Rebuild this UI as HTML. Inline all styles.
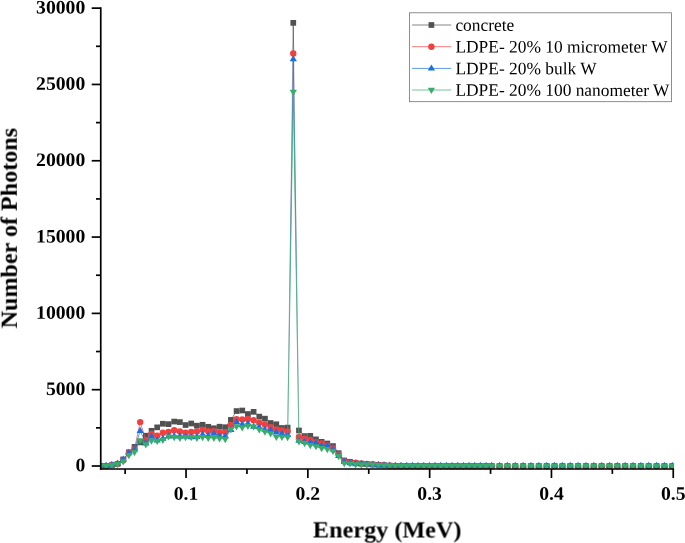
<!DOCTYPE html>
<html lang="en"><head><meta charset="utf-8"><title>Number of Photons vs Energy</title>
<style>html,body{margin:0;padding:0;background:#fff;}svg{display:block;}text{font-family:"Liberation Serif","Times New Roman",serif;text-rendering:geometricPrecision;}.tk{font-weight:bold;font-size:19px;fill:#000;}.ttl{font-weight:bold;font-size:23.3px;fill:#000;}.lg{font-size:17.4px;fill:#000;}</style></head><body>
<svg width="685" height="543" viewBox="0 0 685 543">
<rect width="685" height="543" fill="#fff"/>
<defs><linearGradient id="g0" gradientUnits="userSpaceOnUse" x1="0" y1="440" x2="0" y2="20"><stop offset="0" stop-color="#515151" stop-opacity="0.1"/><stop offset="0.7" stop-color="#515151" stop-opacity="0.3"/><stop offset="0.9" stop-color="#515151" stop-opacity="0.45"/><stop offset="0.92" stop-color="#515151" stop-opacity="1"/><stop offset="1" stop-color="#515151" stop-opacity="1"/></linearGradient><linearGradient id="g1" gradientUnits="userSpaceOnUse" x1="0" y1="440" x2="0" y2="20"><stop offset="0" stop-color="#F14040" stop-opacity="0.1"/><stop offset="0.7" stop-color="#F14040" stop-opacity="0.3"/><stop offset="0.9" stop-color="#F14040" stop-opacity="0.5"/><stop offset="1" stop-color="#F14040" stop-opacity="1"/></linearGradient><linearGradient id="g2" gradientUnits="userSpaceOnUse" x1="0" y1="440" x2="0" y2="20"><stop offset="0" stop-color="#1A6FDF" stop-opacity="0.2"/><stop offset="0.3" stop-color="#1A6FDF" stop-opacity="0.55"/><stop offset="0.55" stop-color="#1A6FDF" stop-opacity="1"/><stop offset="1" stop-color="#1A6FDF" stop-opacity="1"/></linearGradient></defs>
<defs><clipPath id="cp"><rect x="100.4" y="0" width="573.4" height="470"/></clipPath></defs>
<g clip-path="url(#cp)">
<polyline points="100.50,466.00 106.17,465.88 111.84,465.08 117.51,463.86 123.18,459.44 128.85,452.26 134.52,446.89 140.19,442.40 145.86,435.70 151.53,430.82 157.20,427.36 162.87,423.75 168.54,424.14 174.21,421.56 179.88,422.08 185.55,425.04 191.22,423.50 196.89,425.68 202.56,424.78 208.23,426.78 213.90,428.26 219.57,426.70 225.24,427.22 230.91,419.89 236.58,411.06 242.25,410.52 247.92,414.02 253.59,411.84 259.26,416.60 264.93,418.66 270.60,423.02 276.27,424.30 281.94,428.00 287.61,427.62" fill="none" stroke="#515151" stroke-width="0.7"/>
<polyline points="298.95,430.49 304.62,436.12 310.29,435.83 315.96,439.38 321.63,441.84 327.30,443.50 332.97,446.07 338.64,453.15 344.31,460.49 349.98,461.79 355.65,463.07 361.32,463.56 366.99,464.09 372.66,464.47 378.33,464.86 384.00,465.24 389.67,465.57 395.34,465.82" fill="none" stroke="#515151" stroke-width="0.7"/>
<polyline points="287.61,427.62 293.28,22.87 298.95,430.49" fill="none" stroke="url(#g0)" stroke-width="0.7"/>
<g><rect x="97.65" y="463.15" width="5.7" height="5.7" fill="#515151"/><rect x="103.32" y="463.03" width="5.7" height="5.7" fill="#515151"/><rect x="108.99" y="462.23" width="5.7" height="5.7" fill="#515151"/><rect x="114.66" y="461.01" width="5.7" height="5.7" fill="#515151"/><rect x="120.33" y="456.59" width="5.7" height="5.7" fill="#515151"/><rect x="126.00" y="449.41" width="5.7" height="5.7" fill="#515151"/><rect x="131.67" y="444.04" width="5.7" height="5.7" fill="#515151"/><rect x="137.34" y="439.55" width="5.7" height="5.7" fill="#515151"/><rect x="143.01" y="432.85" width="5.7" height="5.7" fill="#515151"/><rect x="148.68" y="427.97" width="5.7" height="5.7" fill="#515151"/><rect x="154.35" y="424.51" width="5.7" height="5.7" fill="#515151"/><rect x="160.02" y="420.90" width="5.7" height="5.7" fill="#515151"/><rect x="165.69" y="421.29" width="5.7" height="5.7" fill="#515151"/><rect x="171.36" y="418.71" width="5.7" height="5.7" fill="#515151"/><rect x="177.03" y="419.23" width="5.7" height="5.7" fill="#515151"/><rect x="182.70" y="422.19" width="5.7" height="5.7" fill="#515151"/><rect x="188.37" y="420.65" width="5.7" height="5.7" fill="#515151"/><rect x="194.04" y="422.83" width="5.7" height="5.7" fill="#515151"/><rect x="199.71" y="421.93" width="5.7" height="5.7" fill="#515151"/><rect x="205.38" y="423.93" width="5.7" height="5.7" fill="#515151"/><rect x="211.05" y="425.41" width="5.7" height="5.7" fill="#515151"/><rect x="216.72" y="423.85" width="5.7" height="5.7" fill="#515151"/><rect x="222.39" y="424.37" width="5.7" height="5.7" fill="#515151"/><rect x="228.06" y="417.04" width="5.7" height="5.7" fill="#515151"/><rect x="233.73" y="408.21" width="5.7" height="5.7" fill="#515151"/><rect x="239.40" y="407.67" width="5.7" height="5.7" fill="#515151"/><rect x="245.07" y="411.17" width="5.7" height="5.7" fill="#515151"/><rect x="250.74" y="408.99" width="5.7" height="5.7" fill="#515151"/><rect x="256.41" y="413.75" width="5.7" height="5.7" fill="#515151"/><rect x="262.08" y="415.81" width="5.7" height="5.7" fill="#515151"/><rect x="267.75" y="420.17" width="5.7" height="5.7" fill="#515151"/><rect x="273.42" y="421.45" width="5.7" height="5.7" fill="#515151"/><rect x="279.09" y="425.15" width="5.7" height="5.7" fill="#515151"/><rect x="284.76" y="424.77" width="5.7" height="5.7" fill="#515151"/><rect x="290.43" y="20.02" width="5.7" height="5.7" fill="#515151"/><rect x="296.10" y="427.64" width="5.7" height="5.7" fill="#515151"/><rect x="301.77" y="433.27" width="5.7" height="5.7" fill="#515151"/><rect x="307.44" y="432.98" width="5.7" height="5.7" fill="#515151"/><rect x="313.11" y="436.53" width="5.7" height="5.7" fill="#515151"/><rect x="318.78" y="438.99" width="5.7" height="5.7" fill="#515151"/><rect x="324.45" y="440.65" width="5.7" height="5.7" fill="#515151"/><rect x="330.12" y="443.22" width="5.7" height="5.7" fill="#515151"/><rect x="335.79" y="450.30" width="5.7" height="5.7" fill="#515151"/><rect x="341.46" y="457.64" width="5.7" height="5.7" fill="#515151"/><rect x="347.13" y="458.94" width="5.7" height="5.7" fill="#515151"/><rect x="352.80" y="460.22" width="5.7" height="5.7" fill="#515151"/><rect x="358.47" y="460.71" width="5.7" height="5.7" fill="#515151"/><rect x="364.14" y="461.24" width="5.7" height="5.7" fill="#515151"/><rect x="369.81" y="461.62" width="5.7" height="5.7" fill="#515151"/><rect x="375.48" y="462.01" width="5.7" height="5.7" fill="#515151"/><rect x="381.15" y="462.39" width="5.7" height="5.7" fill="#515151"/><rect x="386.82" y="462.72" width="5.7" height="5.7" fill="#515151"/><rect x="392.49" y="462.97" width="5.7" height="5.7" fill="#515151"/><rect x="398.16" y="463.09" width="5.7" height="5.7" fill="#515151"/><rect x="403.83" y="463.18" width="5.7" height="5.7" fill="#515151"/><rect x="409.50" y="463.18" width="5.7" height="5.7" fill="#515151"/><rect x="415.17" y="463.18" width="5.7" height="5.7" fill="#515151"/><rect x="420.84" y="463.18" width="5.7" height="5.7" fill="#515151"/><rect x="426.51" y="463.18" width="5.7" height="5.7" fill="#515151"/><rect x="432.18" y="463.18" width="5.7" height="5.7" fill="#515151"/><rect x="437.85" y="463.18" width="5.7" height="5.7" fill="#515151"/><rect x="443.52" y="463.18" width="5.7" height="5.7" fill="#515151"/><rect x="449.19" y="463.18" width="5.7" height="5.7" fill="#515151"/><rect x="454.86" y="463.18" width="5.7" height="5.7" fill="#515151"/><rect x="460.53" y="463.18" width="5.7" height="5.7" fill="#515151"/><rect x="466.20" y="463.18" width="5.7" height="5.7" fill="#515151"/><rect x="471.87" y="463.18" width="5.7" height="5.7" fill="#515151"/><rect x="477.54" y="463.18" width="5.7" height="5.7" fill="#515151"/><rect x="483.21" y="463.18" width="5.7" height="5.7" fill="#515151"/><rect x="488.88" y="463.18" width="5.7" height="5.7" fill="#515151"/><rect x="496.73" y="463.18" width="5.7" height="5.7" fill="#515151"/><rect x="504.58" y="463.18" width="5.7" height="5.7" fill="#515151"/><rect x="512.43" y="463.18" width="5.7" height="5.7" fill="#515151"/><rect x="520.28" y="463.18" width="5.7" height="5.7" fill="#515151"/><rect x="528.13" y="463.18" width="5.7" height="5.7" fill="#515151"/><rect x="535.98" y="463.18" width="5.7" height="5.7" fill="#515151"/><rect x="543.83" y="463.18" width="5.7" height="5.7" fill="#515151"/><rect x="551.68" y="463.18" width="5.7" height="5.7" fill="#515151"/><rect x="559.53" y="463.18" width="5.7" height="5.7" fill="#515151"/><rect x="567.38" y="463.18" width="5.7" height="5.7" fill="#515151"/><rect x="575.23" y="463.18" width="5.7" height="5.7" fill="#515151"/><rect x="583.08" y="463.18" width="5.7" height="5.7" fill="#515151"/><rect x="590.93" y="463.18" width="5.7" height="5.7" fill="#515151"/><rect x="598.78" y="463.18" width="5.7" height="5.7" fill="#515151"/><rect x="606.63" y="463.18" width="5.7" height="5.7" fill="#515151"/><rect x="614.48" y="463.18" width="5.7" height="5.7" fill="#515151"/><rect x="622.33" y="463.18" width="5.7" height="5.7" fill="#515151"/><rect x="630.18" y="463.18" width="5.7" height="5.7" fill="#515151"/><rect x="638.03" y="463.18" width="5.7" height="5.7" fill="#515151"/><rect x="645.88" y="463.18" width="5.7" height="5.7" fill="#515151"/><rect x="653.73" y="463.18" width="5.7" height="5.7" fill="#515151"/><rect x="661.58" y="463.18" width="5.7" height="5.7" fill="#515151"/><rect x="669.43" y="463.18" width="5.7" height="5.7" fill="#515151"/></g>
<polyline points="100.50,466.00 106.17,465.88 111.84,465.08 117.51,463.86 123.18,460.20 128.85,453.03 134.52,448.91 140.19,422.08 145.86,440.05 151.53,433.95 157.20,435.70 162.87,432.76 168.54,431.86 174.21,430.18 179.88,431.46 185.55,432.76 191.22,432.03 196.89,431.46 202.56,429.84 208.23,431.13 213.90,431.13 219.57,432.42 225.24,432.12 230.91,425.04 236.58,419.15 242.25,419.45 247.92,418.92 253.59,420.20 259.26,422.76 264.93,424.44 270.60,427.27 276.27,429.57 281.94,430.47 287.61,431.49" fill="none" stroke="#F14040" stroke-width="0.7"/>
<polyline points="298.95,436.90 304.62,438.42 310.29,440.07 315.96,442.21 321.63,443.41 327.30,445.43 332.97,448.36 338.64,454.45 344.31,461.13 349.98,462.79 355.65,462.70 361.32,463.71 366.99,464.17 372.66,464.55 378.33,464.90 384.00,465.27 389.67,465.60 395.34,465.85" fill="none" stroke="#F14040" stroke-width="0.7"/>
<polyline points="287.61,431.49 293.28,53.57 298.95,436.90" fill="none" stroke="url(#g1)" stroke-width="0.7"/>
<g><circle cx="100.50" cy="466.00" r="3.2" fill="#F14040"/><circle cx="106.17" cy="465.88" r="3.2" fill="#F14040"/><circle cx="111.84" cy="465.08" r="3.2" fill="#F14040"/><circle cx="117.51" cy="463.86" r="3.2" fill="#F14040"/><circle cx="123.18" cy="460.20" r="3.2" fill="#F14040"/><circle cx="128.85" cy="453.03" r="3.2" fill="#F14040"/><circle cx="134.52" cy="448.91" r="3.2" fill="#F14040"/><circle cx="140.19" cy="422.08" r="3.2" fill="#F14040"/><circle cx="145.86" cy="440.05" r="3.2" fill="#F14040"/><circle cx="151.53" cy="433.95" r="3.2" fill="#F14040"/><circle cx="157.20" cy="435.70" r="3.2" fill="#F14040"/><circle cx="162.87" cy="432.76" r="3.2" fill="#F14040"/><circle cx="168.54" cy="431.86" r="3.2" fill="#F14040"/><circle cx="174.21" cy="430.18" r="3.2" fill="#F14040"/><circle cx="179.88" cy="431.46" r="3.2" fill="#F14040"/><circle cx="185.55" cy="432.76" r="3.2" fill="#F14040"/><circle cx="191.22" cy="432.03" r="3.2" fill="#F14040"/><circle cx="196.89" cy="431.46" r="3.2" fill="#F14040"/><circle cx="202.56" cy="429.84" r="3.2" fill="#F14040"/><circle cx="208.23" cy="431.13" r="3.2" fill="#F14040"/><circle cx="213.90" cy="431.13" r="3.2" fill="#F14040"/><circle cx="219.57" cy="432.42" r="3.2" fill="#F14040"/><circle cx="225.24" cy="432.12" r="3.2" fill="#F14040"/><circle cx="230.91" cy="425.04" r="3.2" fill="#F14040"/><circle cx="236.58" cy="419.15" r="3.2" fill="#F14040"/><circle cx="242.25" cy="419.45" r="3.2" fill="#F14040"/><circle cx="247.92" cy="418.92" r="3.2" fill="#F14040"/><circle cx="253.59" cy="420.20" r="3.2" fill="#F14040"/><circle cx="259.26" cy="422.76" r="3.2" fill="#F14040"/><circle cx="264.93" cy="424.44" r="3.2" fill="#F14040"/><circle cx="270.60" cy="427.27" r="3.2" fill="#F14040"/><circle cx="276.27" cy="429.57" r="3.2" fill="#F14040"/><circle cx="281.94" cy="430.47" r="3.2" fill="#F14040"/><circle cx="287.61" cy="431.49" r="3.2" fill="#F14040"/><circle cx="293.28" cy="53.57" r="3.2" fill="#F14040"/><circle cx="298.95" cy="436.90" r="3.2" fill="#F14040"/><circle cx="304.62" cy="438.42" r="3.2" fill="#F14040"/><circle cx="310.29" cy="440.07" r="3.2" fill="#F14040"/><circle cx="315.96" cy="442.21" r="3.2" fill="#F14040"/><circle cx="321.63" cy="443.41" r="3.2" fill="#F14040"/><circle cx="327.30" cy="445.43" r="3.2" fill="#F14040"/><circle cx="332.97" cy="448.36" r="3.2" fill="#F14040"/><circle cx="338.64" cy="454.45" r="3.2" fill="#F14040"/><circle cx="344.31" cy="461.13" r="3.2" fill="#F14040"/><circle cx="349.98" cy="462.79" r="3.2" fill="#F14040"/><circle cx="355.65" cy="462.70" r="3.2" fill="#F14040"/><circle cx="361.32" cy="463.71" r="3.2" fill="#F14040"/><circle cx="366.99" cy="464.17" r="3.2" fill="#F14040"/><circle cx="372.66" cy="464.55" r="3.2" fill="#F14040"/><circle cx="378.33" cy="464.90" r="3.2" fill="#F14040"/><circle cx="384.00" cy="465.27" r="3.2" fill="#F14040"/><circle cx="389.67" cy="465.60" r="3.2" fill="#F14040"/><circle cx="395.34" cy="465.85" r="3.2" fill="#F14040"/><circle cx="401.01" cy="465.97" r="3.2" fill="#F14040"/><circle cx="406.68" cy="466.09" r="3.2" fill="#F14040"/><circle cx="412.35" cy="466.09" r="3.2" fill="#F14040"/><circle cx="418.02" cy="466.09" r="3.2" fill="#F14040"/><circle cx="423.69" cy="466.09" r="3.2" fill="#F14040"/><circle cx="429.36" cy="466.09" r="3.2" fill="#F14040"/><circle cx="435.03" cy="466.09" r="3.2" fill="#F14040"/><circle cx="440.70" cy="466.09" r="3.2" fill="#F14040"/><circle cx="446.37" cy="466.09" r="3.2" fill="#F14040"/><circle cx="452.04" cy="466.09" r="3.2" fill="#F14040"/><circle cx="457.71" cy="466.09" r="3.2" fill="#F14040"/><circle cx="463.38" cy="466.09" r="3.2" fill="#F14040"/><circle cx="469.05" cy="466.09" r="3.2" fill="#F14040"/><circle cx="474.72" cy="466.09" r="3.2" fill="#F14040"/><circle cx="480.39" cy="466.09" r="3.2" fill="#F14040"/><circle cx="486.06" cy="466.09" r="3.2" fill="#F14040"/><circle cx="491.73" cy="466.09" r="3.2" fill="#F14040"/><circle cx="499.58" cy="466.09" r="3.2" fill="#F14040"/><circle cx="507.43" cy="466.09" r="3.2" fill="#F14040"/><circle cx="515.28" cy="466.09" r="3.2" fill="#F14040"/><circle cx="523.13" cy="466.09" r="3.2" fill="#F14040"/><circle cx="530.98" cy="466.09" r="3.2" fill="#F14040"/><circle cx="538.83" cy="466.09" r="3.2" fill="#F14040"/><circle cx="546.68" cy="466.09" r="3.2" fill="#F14040"/><circle cx="554.53" cy="466.09" r="3.2" fill="#F14040"/><circle cx="562.38" cy="466.09" r="3.2" fill="#F14040"/><circle cx="570.23" cy="466.09" r="3.2" fill="#F14040"/><circle cx="578.08" cy="466.09" r="3.2" fill="#F14040"/><circle cx="585.93" cy="466.09" r="3.2" fill="#F14040"/><circle cx="593.78" cy="466.09" r="3.2" fill="#F14040"/><circle cx="601.63" cy="466.09" r="3.2" fill="#F14040"/><circle cx="609.48" cy="466.09" r="3.2" fill="#F14040"/><circle cx="617.33" cy="466.09" r="3.2" fill="#F14040"/><circle cx="625.18" cy="466.09" r="3.2" fill="#F14040"/><circle cx="633.03" cy="466.09" r="3.2" fill="#F14040"/><circle cx="640.88" cy="466.09" r="3.2" fill="#F14040"/><circle cx="648.73" cy="466.09" r="3.2" fill="#F14040"/><circle cx="656.58" cy="466.09" r="3.2" fill="#F14040"/><circle cx="664.43" cy="466.09" r="3.2" fill="#F14040"/><circle cx="672.28" cy="466.09" r="3.2" fill="#F14040"/></g>
<polyline points="100.50,465.88 106.17,465.73 111.84,464.66 117.51,463.48 123.18,459.51 128.85,452.69 134.52,449.21 140.19,430.82 145.86,443.41 151.53,436.54 157.20,440.36 162.87,438.53 168.54,436.24 174.21,436.09 179.88,436.24 185.55,436.39 191.22,436.93 196.89,436.85 202.56,434.59 208.23,435.78 213.90,433.57 219.57,436.16 225.24,436.13 230.91,429.68 236.58,422.05 242.25,424.49 247.92,423.57 253.59,426.62 259.26,427.16 264.93,429.48 270.60,429.94 276.27,432.23 281.94,433.60 287.61,434.90" fill="none" stroke="#1A6FDF" stroke-width="0.7"/>
<polyline points="298.95,440.59 304.62,441.76 310.29,442.40 315.96,442.85 321.63,445.79 327.30,445.43 332.97,449.38 338.64,455.71 344.31,461.59 349.98,462.79 355.65,464.02 361.32,463.74 366.99,464.32 372.66,464.53 378.33,464.72 384.00,465.08 389.67,465.45 395.34,465.66" fill="none" stroke="#1A6FDF" stroke-width="0.7"/>
<polyline points="287.61,434.90 293.28,59.15 298.95,440.59" fill="none" stroke="url(#g2)" stroke-width="0.7"/>
<g><path d="M100.50 461.88L104.10 468.08L96.90 468.08Z" fill="#1A6FDF"/><path d="M106.17 461.73L109.77 467.93L102.57 467.93Z" fill="#1A6FDF"/><path d="M111.84 460.66L115.44 466.86L108.24 466.86Z" fill="#1A6FDF"/><path d="M117.51 459.48L121.11 465.68L113.91 465.68Z" fill="#1A6FDF"/><path d="M123.18 455.51L126.78 461.71L119.58 461.71Z" fill="#1A6FDF"/><path d="M128.85 448.69L132.45 454.89L125.25 454.89Z" fill="#1A6FDF"/><path d="M134.52 445.21L138.12 451.41L130.92 451.41Z" fill="#1A6FDF"/><path d="M140.19 426.82L143.79 433.02L136.59 433.02Z" fill="#1A6FDF"/><path d="M145.86 439.41L149.46 445.61L142.26 445.61Z" fill="#1A6FDF"/><path d="M151.53 432.54L155.13 438.74L147.93 438.74Z" fill="#1A6FDF"/><path d="M157.20 436.36L160.80 442.56L153.60 442.56Z" fill="#1A6FDF"/><path d="M162.87 434.53L166.47 440.73L159.27 440.73Z" fill="#1A6FDF"/><path d="M168.54 432.24L172.14 438.44L164.94 438.44Z" fill="#1A6FDF"/><path d="M174.21 432.09L177.81 438.29L170.61 438.29Z" fill="#1A6FDF"/><path d="M179.88 432.24L183.48 438.44L176.28 438.44Z" fill="#1A6FDF"/><path d="M185.55 432.39L189.15 438.59L181.95 438.59Z" fill="#1A6FDF"/><path d="M191.22 432.93L194.82 439.13L187.62 439.13Z" fill="#1A6FDF"/><path d="M196.89 432.85L200.49 439.05L193.29 439.05Z" fill="#1A6FDF"/><path d="M202.56 430.59L206.16 436.79L198.96 436.79Z" fill="#1A6FDF"/><path d="M208.23 431.78L211.83 437.98L204.63 437.98Z" fill="#1A6FDF"/><path d="M213.90 429.57L217.50 435.77L210.30 435.77Z" fill="#1A6FDF"/><path d="M219.57 432.16L223.17 438.36L215.97 438.36Z" fill="#1A6FDF"/><path d="M225.24 432.13L228.84 438.33L221.64 438.33Z" fill="#1A6FDF"/><path d="M230.91 425.68L234.51 431.88L227.31 431.88Z" fill="#1A6FDF"/><path d="M236.58 418.05L240.18 424.25L232.98 424.25Z" fill="#1A6FDF"/><path d="M242.25 420.49L245.85 426.69L238.65 426.69Z" fill="#1A6FDF"/><path d="M247.92 419.57L251.52 425.77L244.32 425.77Z" fill="#1A6FDF"/><path d="M253.59 422.62L257.19 428.82L249.99 428.82Z" fill="#1A6FDF"/><path d="M259.26 423.16L262.86 429.36L255.66 429.36Z" fill="#1A6FDF"/><path d="M264.93 425.48L268.53 431.68L261.33 431.68Z" fill="#1A6FDF"/><path d="M270.60 425.94L274.20 432.14L267.00 432.14Z" fill="#1A6FDF"/><path d="M276.27 428.23L279.87 434.43L272.67 434.43Z" fill="#1A6FDF"/><path d="M281.94 429.60L285.54 435.80L278.34 435.80Z" fill="#1A6FDF"/><path d="M287.61 430.90L291.21 437.10L284.01 437.10Z" fill="#1A6FDF"/><path d="M293.28 55.15L296.88 61.35L289.68 61.35Z" fill="#1A6FDF"/><path d="M298.95 436.59L302.55 442.79L295.35 442.79Z" fill="#1A6FDF"/><path d="M304.62 437.76L308.22 443.96L301.02 443.96Z" fill="#1A6FDF"/><path d="M310.29 438.40L313.89 444.60L306.69 444.60Z" fill="#1A6FDF"/><path d="M315.96 438.85L319.56 445.05L312.36 445.05Z" fill="#1A6FDF"/><path d="M321.63 441.79L325.23 447.99L318.03 447.99Z" fill="#1A6FDF"/><path d="M327.30 441.43L330.90 447.63L323.70 447.63Z" fill="#1A6FDF"/><path d="M332.97 445.38L336.57 451.58L329.37 451.58Z" fill="#1A6FDF"/><path d="M338.64 451.71L342.24 457.91L335.04 457.91Z" fill="#1A6FDF"/><path d="M344.31 457.59L347.91 463.79L340.71 463.79Z" fill="#1A6FDF"/><path d="M349.98 458.79L353.58 464.99L346.38 464.99Z" fill="#1A6FDF"/><path d="M355.65 460.02L359.25 466.22L352.05 466.22Z" fill="#1A6FDF"/><path d="M361.32 459.74L364.92 465.94L357.72 465.94Z" fill="#1A6FDF"/><path d="M366.99 460.32L370.59 466.52L363.39 466.52Z" fill="#1A6FDF"/><path d="M372.66 460.53L376.26 466.73L369.06 466.73Z" fill="#1A6FDF"/><path d="M378.33 460.72L381.93 466.92L374.73 466.92Z" fill="#1A6FDF"/><path d="M384.00 461.08L387.60 467.28L380.40 467.28Z" fill="#1A6FDF"/><path d="M389.67 461.45L393.27 467.65L386.07 467.65Z" fill="#1A6FDF"/><path d="M395.34 461.66L398.94 467.86L391.74 467.86Z" fill="#1A6FDF"/><path d="M401.01 461.82L404.61 468.02L397.41 468.02Z" fill="#1A6FDF"/><path d="M406.68 461.79L410.28 467.99L403.08 467.99Z" fill="#1A6FDF"/><path d="M412.35 461.79L415.95 467.99L408.75 467.99Z" fill="#1A6FDF"/><path d="M418.02 461.79L421.62 467.99L414.42 467.99Z" fill="#1A6FDF"/><path d="M423.69 461.79L427.29 467.99L420.09 467.99Z" fill="#1A6FDF"/><path d="M429.36 461.79L432.96 467.99L425.76 467.99Z" fill="#1A6FDF"/><path d="M435.03 461.79L438.63 467.99L431.43 467.99Z" fill="#1A6FDF"/><path d="M440.70 461.79L444.30 467.99L437.10 467.99Z" fill="#1A6FDF"/><path d="M446.37 461.79L449.97 467.99L442.77 467.99Z" fill="#1A6FDF"/><path d="M452.04 461.79L455.64 467.99L448.44 467.99Z" fill="#1A6FDF"/><path d="M457.71 461.79L461.31 467.99L454.11 467.99Z" fill="#1A6FDF"/><path d="M463.38 461.79L466.98 467.99L459.78 467.99Z" fill="#1A6FDF"/><path d="M469.05 461.79L472.65 467.99L465.45 467.99Z" fill="#1A6FDF"/><path d="M474.72 461.79L478.32 467.99L471.12 467.99Z" fill="#1A6FDF"/><path d="M480.39 461.79L483.99 467.99L476.79 467.99Z" fill="#1A6FDF"/><path d="M486.06 461.79L489.66 467.99L482.46 467.99Z" fill="#1A6FDF"/><path d="M491.73 461.79L495.33 467.99L488.13 467.99Z" fill="#1A6FDF"/><path d="M499.58 461.79L503.18 467.99L495.98 467.99Z" fill="#1A6FDF"/><path d="M507.43 461.79L511.03 467.99L503.83 467.99Z" fill="#1A6FDF"/><path d="M515.28 461.79L518.88 467.99L511.68 467.99Z" fill="#1A6FDF"/><path d="M523.13 461.79L526.73 467.99L519.53 467.99Z" fill="#1A6FDF"/><path d="M530.98 461.79L534.58 467.99L527.38 467.99Z" fill="#1A6FDF"/><path d="M538.83 461.79L542.43 467.99L535.23 467.99Z" fill="#1A6FDF"/><path d="M546.68 461.79L550.28 467.99L543.08 467.99Z" fill="#1A6FDF"/><path d="M554.53 461.79L558.13 467.99L550.93 467.99Z" fill="#1A6FDF"/><path d="M562.38 461.79L565.98 467.99L558.78 467.99Z" fill="#1A6FDF"/><path d="M570.23 461.79L573.83 467.99L566.63 467.99Z" fill="#1A6FDF"/><path d="M578.08 461.79L581.68 467.99L574.48 467.99Z" fill="#1A6FDF"/><path d="M585.93 461.79L589.53 467.99L582.33 467.99Z" fill="#1A6FDF"/><path d="M593.78 461.79L597.38 467.99L590.18 467.99Z" fill="#1A6FDF"/><path d="M601.63 461.79L605.23 467.99L598.03 467.99Z" fill="#1A6FDF"/><path d="M609.48 461.79L613.08 467.99L605.88 467.99Z" fill="#1A6FDF"/><path d="M617.33 461.79L620.93 467.99L613.73 467.99Z" fill="#1A6FDF"/><path d="M625.18 461.79L628.78 467.99L621.58 467.99Z" fill="#1A6FDF"/><path d="M633.03 461.79L636.63 467.99L629.43 467.99Z" fill="#1A6FDF"/><path d="M640.88 461.79L644.48 467.99L637.28 467.99Z" fill="#1A6FDF"/><path d="M648.73 461.79L652.33 467.99L645.13 467.99Z" fill="#1A6FDF"/><path d="M656.58 461.79L660.18 467.99L652.98 467.99Z" fill="#1A6FDF"/><path d="M664.43 461.79L668.03 467.99L660.83 467.99Z" fill="#1A6FDF"/><path d="M672.28 461.79L675.88 467.99L668.68 467.99Z" fill="#1A6FDF"/></g>
<polyline points="100.50,466.08 106.17,466.00 111.84,465.24 117.51,464.24 123.18,461.42 128.85,455.26 134.52,452.26 140.19,440.47 145.86,444.48 151.53,440.71 157.20,441.12 162.87,439.90 168.54,436.61 174.21,437.25 179.88,437.90 185.55,437.25 191.22,437.25 196.89,437.90 202.56,437.25 208.23,437.90 213.90,437.90 219.57,438.54 225.24,439.18 230.91,429.54 236.58,426.47 242.25,427.43 247.92,425.98 253.59,426.62 259.26,429.52 264.93,431.77 270.60,433.45 276.27,436.91 281.94,436.90 287.61,437.28 293.28,91.91 298.95,441.50 304.62,443.18 310.29,445.15 315.96,446.34 321.63,448.28 327.30,449.20 332.97,451.12 338.64,456.26 344.31,463.34 349.98,463.62 355.65,464.38 361.32,464.63 366.99,464.60 372.66,464.78 378.33,465.11 384.00,465.48 389.67,465.82 395.34,465.97 401.01,466.00 406.68,466.03 412.35,466.03 418.02,466.03 423.69,466.03 429.36,466.03 435.03,466.03 440.70,466.03 446.37,466.03 452.04,466.03 457.71,466.03 463.38,466.03 469.05,466.03 474.72,466.03 480.39,466.03 486.06,466.03 491.73,466.03 499.58,466.03 507.43,466.03 515.28,466.03 523.13,466.03 530.98,466.03 538.83,466.03 546.68,466.03 554.53,466.03 562.38,466.03 570.23,466.03 578.08,466.03 585.93,466.03 593.78,466.03 601.63,466.03 609.48,466.03 617.33,466.03 625.18,466.03 633.03,466.03 640.88,466.03 648.73,466.03 656.58,466.03 664.43,466.03 672.28,466.03" fill="none" stroke="#37AD6B" stroke-width="0.7"/>
<g><path d="M100.50 470.08L104.10 463.88L96.90 463.88Z" fill="#37AD6B"/><path d="M106.17 470.00L109.77 463.80L102.57 463.80Z" fill="#37AD6B"/><path d="M111.84 469.24L115.44 463.04L108.24 463.04Z" fill="#37AD6B"/><path d="M117.51 468.24L121.11 462.04L113.91 462.04Z" fill="#37AD6B"/><path d="M123.18 465.42L126.78 459.22L119.58 459.22Z" fill="#37AD6B"/><path d="M128.85 459.26L132.45 453.06L125.25 453.06Z" fill="#37AD6B"/><path d="M134.52 456.26L138.12 450.06L130.92 450.06Z" fill="#37AD6B"/><path d="M140.19 444.47L143.79 438.27L136.59 438.27Z" fill="#37AD6B"/><path d="M145.86 448.48L149.46 442.28L142.26 442.28Z" fill="#37AD6B"/><path d="M151.53 444.71L155.13 438.51L147.93 438.51Z" fill="#37AD6B"/><path d="M157.20 445.12L160.80 438.92L153.60 438.92Z" fill="#37AD6B"/><path d="M162.87 443.90L166.47 437.70L159.27 437.70Z" fill="#37AD6B"/><path d="M168.54 440.61L172.14 434.41L164.94 434.41Z" fill="#37AD6B"/><path d="M174.21 441.25L177.81 435.05L170.61 435.05Z" fill="#37AD6B"/><path d="M179.88 441.90L183.48 435.70L176.28 435.70Z" fill="#37AD6B"/><path d="M185.55 441.25L189.15 435.05L181.95 435.05Z" fill="#37AD6B"/><path d="M191.22 441.25L194.82 435.05L187.62 435.05Z" fill="#37AD6B"/><path d="M196.89 441.90L200.49 435.70L193.29 435.70Z" fill="#37AD6B"/><path d="M202.56 441.25L206.16 435.05L198.96 435.05Z" fill="#37AD6B"/><path d="M208.23 441.90L211.83 435.70L204.63 435.70Z" fill="#37AD6B"/><path d="M213.90 441.90L217.50 435.70L210.30 435.70Z" fill="#37AD6B"/><path d="M219.57 442.54L223.17 436.34L215.97 436.34Z" fill="#37AD6B"/><path d="M225.24 443.18L228.84 436.98L221.64 436.98Z" fill="#37AD6B"/><path d="M230.91 433.54L234.51 427.34L227.31 427.34Z" fill="#37AD6B"/><path d="M236.58 430.47L240.18 424.27L232.98 424.27Z" fill="#37AD6B"/><path d="M242.25 431.43L245.85 425.23L238.65 425.23Z" fill="#37AD6B"/><path d="M247.92 429.98L251.52 423.78L244.32 423.78Z" fill="#37AD6B"/><path d="M253.59 430.62L257.19 424.42L249.99 424.42Z" fill="#37AD6B"/><path d="M259.26 433.52L262.86 427.32L255.66 427.32Z" fill="#37AD6B"/><path d="M264.93 435.77L268.53 429.57L261.33 429.57Z" fill="#37AD6B"/><path d="M270.60 437.45L274.20 431.25L267.00 431.25Z" fill="#37AD6B"/><path d="M276.27 440.91L279.87 434.71L272.67 434.71Z" fill="#37AD6B"/><path d="M281.94 440.90L285.54 434.70L278.34 434.70Z" fill="#37AD6B"/><path d="M287.61 441.28L291.21 435.08L284.01 435.08Z" fill="#37AD6B"/><path d="M293.28 95.91L296.88 89.71L289.68 89.71Z" fill="#37AD6B"/><path d="M298.95 445.50L302.55 439.30L295.35 439.30Z" fill="#37AD6B"/><path d="M304.62 447.18L308.22 440.98L301.02 440.98Z" fill="#37AD6B"/><path d="M310.29 449.15L313.89 442.95L306.69 442.95Z" fill="#37AD6B"/><path d="M315.96 450.34L319.56 444.14L312.36 444.14Z" fill="#37AD6B"/><path d="M321.63 452.28L325.23 446.08L318.03 446.08Z" fill="#37AD6B"/><path d="M327.30 453.20L330.90 447.00L323.70 447.00Z" fill="#37AD6B"/><path d="M332.97 455.12L336.57 448.92L329.37 448.92Z" fill="#37AD6B"/><path d="M338.64 460.26L342.24 454.06L335.04 454.06Z" fill="#37AD6B"/><path d="M344.31 467.34L347.91 461.14L340.71 461.14Z" fill="#37AD6B"/><path d="M349.98 467.62L353.58 461.42L346.38 461.42Z" fill="#37AD6B"/><path d="M355.65 468.38L359.25 462.18L352.05 462.18Z" fill="#37AD6B"/><path d="M361.32 468.63L364.92 462.43L357.72 462.43Z" fill="#37AD6B"/><path d="M366.99 468.60L370.59 462.40L363.39 462.40Z" fill="#37AD6B"/><path d="M372.66 468.78L376.26 462.58L369.06 462.58Z" fill="#37AD6B"/><path d="M378.33 469.11L381.93 462.91L374.73 462.91Z" fill="#37AD6B"/><path d="M384.00 469.48L387.60 463.28L380.40 463.28Z" fill="#37AD6B"/><path d="M389.67 469.82L393.27 463.62L386.07 463.62Z" fill="#37AD6B"/><path d="M395.34 469.97L398.94 463.77L391.74 463.77Z" fill="#37AD6B"/><path d="M401.01 470.00L404.61 463.80L397.41 463.80Z" fill="#37AD6B"/><path d="M406.68 470.03L410.28 463.83L403.08 463.83Z" fill="#37AD6B"/><path d="M412.35 470.03L415.95 463.83L408.75 463.83Z" fill="#37AD6B"/><path d="M418.02 470.03L421.62 463.83L414.42 463.83Z" fill="#37AD6B"/><path d="M423.69 470.03L427.29 463.83L420.09 463.83Z" fill="#37AD6B"/><path d="M429.36 470.03L432.96 463.83L425.76 463.83Z" fill="#37AD6B"/><path d="M435.03 470.03L438.63 463.83L431.43 463.83Z" fill="#37AD6B"/><path d="M440.70 470.03L444.30 463.83L437.10 463.83Z" fill="#37AD6B"/><path d="M446.37 470.03L449.97 463.83L442.77 463.83Z" fill="#37AD6B"/><path d="M452.04 470.03L455.64 463.83L448.44 463.83Z" fill="#37AD6B"/><path d="M457.71 470.03L461.31 463.83L454.11 463.83Z" fill="#37AD6B"/><path d="M463.38 470.03L466.98 463.83L459.78 463.83Z" fill="#37AD6B"/><path d="M469.05 470.03L472.65 463.83L465.45 463.83Z" fill="#37AD6B"/><path d="M474.72 470.03L478.32 463.83L471.12 463.83Z" fill="#37AD6B"/><path d="M480.39 470.03L483.99 463.83L476.79 463.83Z" fill="#37AD6B"/><path d="M486.06 470.03L489.66 463.83L482.46 463.83Z" fill="#37AD6B"/><path d="M491.73 470.03L495.33 463.83L488.13 463.83Z" fill="#37AD6B"/><path d="M499.58 470.03L503.18 463.83L495.98 463.83Z" fill="#37AD6B"/><path d="M507.43 470.03L511.03 463.83L503.83 463.83Z" fill="#37AD6B"/><path d="M515.28 470.03L518.88 463.83L511.68 463.83Z" fill="#37AD6B"/><path d="M523.13 470.03L526.73 463.83L519.53 463.83Z" fill="#37AD6B"/><path d="M530.98 470.03L534.58 463.83L527.38 463.83Z" fill="#37AD6B"/><path d="M538.83 470.03L542.43 463.83L535.23 463.83Z" fill="#37AD6B"/><path d="M546.68 470.03L550.28 463.83L543.08 463.83Z" fill="#37AD6B"/><path d="M554.53 470.03L558.13 463.83L550.93 463.83Z" fill="#37AD6B"/><path d="M562.38 470.03L565.98 463.83L558.78 463.83Z" fill="#37AD6B"/><path d="M570.23 470.03L573.83 463.83L566.63 463.83Z" fill="#37AD6B"/><path d="M578.08 470.03L581.68 463.83L574.48 463.83Z" fill="#37AD6B"/><path d="M585.93 470.03L589.53 463.83L582.33 463.83Z" fill="#37AD6B"/><path d="M593.78 470.03L597.38 463.83L590.18 463.83Z" fill="#37AD6B"/><path d="M601.63 470.03L605.23 463.83L598.03 463.83Z" fill="#37AD6B"/><path d="M609.48 470.03L613.08 463.83L605.88 463.83Z" fill="#37AD6B"/><path d="M617.33 470.03L620.93 463.83L613.73 463.83Z" fill="#37AD6B"/><path d="M625.18 470.03L628.78 463.83L621.58 463.83Z" fill="#37AD6B"/><path d="M633.03 470.03L636.63 463.83L629.43 463.83Z" fill="#37AD6B"/><path d="M640.88 470.03L644.48 463.83L637.28 463.83Z" fill="#37AD6B"/><path d="M648.73 470.03L652.33 463.83L645.13 463.83Z" fill="#37AD6B"/><path d="M656.58 470.03L660.18 463.83L652.98 463.83Z" fill="#37AD6B"/><path d="M664.43 470.03L668.03 463.83L660.83 463.83Z" fill="#37AD6B"/><path d="M672.28 470.03L675.88 463.83L668.68 463.83Z" fill="#37AD6B"/></g>
</g>
<g stroke="#000" stroke-width="1.7" fill="none" stroke-linecap="butt">
<path d="M100.75 7.29V469.80"/>
<path d="M99.9 469.05H674.10" stroke-width="1.5"/>
<path d="M91.7 466.00H100.75"/>
<path d="M96 427.85H100.75"/>
<path d="M91.7 389.69H100.75"/>
<path d="M96 351.53H100.75"/>
<path d="M91.7 313.38H100.75"/>
<path d="M96 275.23H100.75"/>
<path d="M91.7 237.07H100.75"/>
<path d="M96 198.92H100.75"/>
<path d="M91.7 160.76H100.75"/>
<path d="M96 122.61H100.75"/>
<path d="M91.7 84.45H100.75"/>
<path d="M96 46.30H100.75"/>
<path d="M91.7 8.14H100.75"/>
<path d="M125.15 469.05V473.9"/>
<path d="M186.05 469.05V478"/>
<path d="M246.95 469.05V473.9"/>
<path d="M307.85 469.05V478"/>
<path d="M368.75 469.05V473.9"/>
<path d="M429.65 469.05V478"/>
<path d="M490.55 469.05V473.9"/>
<path d="M551.45 469.05V478"/>
<path d="M612.35 469.05V473.9"/>
<path d="M673.25 469.05V478"/>
</g>
<g style="filter:grayscale(1)">
<text class="tk" transform="translate(85.2,471.35) rotate(0.03) scale(1.034,1)" text-anchor="end">0</text>
<text class="tk" transform="translate(85.2,395.04) rotate(0.03) scale(1.034,1)" text-anchor="end">5000</text>
<text class="tk" transform="translate(85.2,318.73) rotate(0.03) scale(1.034,1)" text-anchor="end">10000</text>
<text class="tk" transform="translate(85.2,242.42) rotate(0.03) scale(1.034,1)" text-anchor="end">15000</text>
<text class="tk" transform="translate(85.2,166.11) rotate(0.03) scale(1.034,1)" text-anchor="end">20000</text>
<text class="tk" transform="translate(85.2,89.80) rotate(0.03) scale(1.034,1)" text-anchor="end">25000</text>
<text class="tk" transform="translate(85.2,13.49) rotate(0.03) scale(1.034,1)" text-anchor="end">30000</text>
<text class="tk" transform="translate(186.05,499.7) rotate(0.03) scale(1.034,1)" text-anchor="middle">0.1</text>
<text class="tk" transform="translate(307.85,499.7) rotate(0.03) scale(1.034,1)" text-anchor="middle">0.2</text>
<text class="tk" transform="translate(429.65,499.7) rotate(0.03) scale(1.034,1)" text-anchor="middle">0.3</text>
<text class="tk" transform="translate(551.45,499.7) rotate(0.03) scale(1.034,1)" text-anchor="middle">0.4</text>
<text class="tk" transform="translate(673.25,499.7) rotate(0.03) scale(1.034,1)" text-anchor="middle">0.5</text>
<text class="ttl" transform="translate(387.2,537.5) rotate(0.03) scale(1.039,1)" text-anchor="middle">Energy (MeV)</text>
<text class="ttl" transform="translate(16.8,228.15) rotate(-90.03) scale(1.035,1)" text-anchor="middle">Number of Photons</text>
</g>
<rect x="409.5" y="12.8" width="262" height="88.9" fill="#fff" stroke="#727272" stroke-width="0.8"/>
<path d="M412.1 25.0H451.2" stroke="#515151" stroke-width="0.7" fill="none"/>
<rect x="428.55" y="22.15" width="5.7" height="5.7" fill="#515151"/>
<path d="M412.1 46.7H451.2" stroke="#F14040" stroke-width="0.7" fill="none"/>
<circle cx="431.40" cy="46.70" r="3.2" fill="#F14040"/>
<path d="M412.1 68.4H451.2" stroke="#1A6FDF" stroke-width="0.7" fill="none"/>
<path d="M431.40 64.40L435.00 70.60L427.80 70.60Z" fill="#1A6FDF"/>
<path d="M412.1 90.0H451.2" stroke="#37AD6B" stroke-width="0.7" fill="none"/>
<path d="M431.40 94.00L435.00 87.80L427.80 87.80Z" fill="#37AD6B"/>
<g style="filter:grayscale(1)">
<text class="lg" transform="translate(455.4,30.80) rotate(0.03)">concrete</text>
<text class="lg" transform="translate(455.4,52.50) rotate(0.03)">LDPE- 20% 10 micrometer W</text>
<text class="lg" transform="translate(455.4,74.20) rotate(0.03)">LDPE- 20% bulk W</text>
<text class="lg" transform="translate(455.4,95.80) rotate(0.03)">LDPE- 20% 100 nanometer W</text>
</g>
</svg></body></html>
